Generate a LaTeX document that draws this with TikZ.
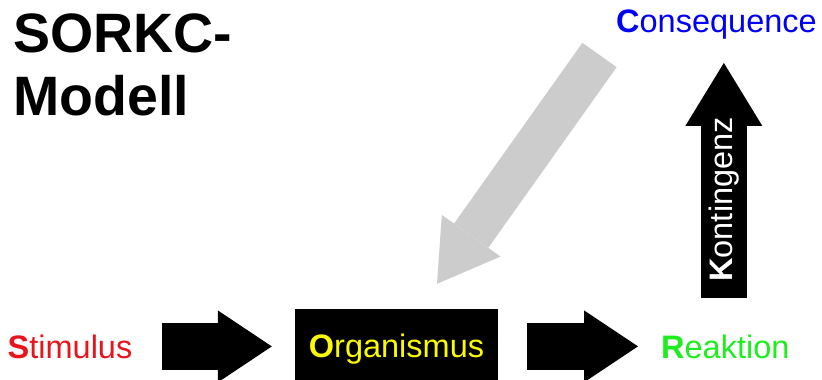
\documentclass[tikz,border=0pt]{standalone}
\usepackage{fontspec}
\setmainfont{Liberation Sans}
\usetikzlibrary{arrows.meta}

\definecolor{sred}{RGB}{232,20,28}
\definecolor{oyellow}{RGB}{250,250,0}
\definecolor{rgreen}{RGB}{30,238,30}
\definecolor{cblue}{RGB}{0,0,245}
\definecolor{fbgray}{RGB}{204,204,204}

\tikzstyle{lbl}=[anchor=base west,inner sep=0pt]
\tikzstyle{bigarrow}=[line width=47pt,-{Triangle[length=54pt,width=72pt,line width=0pt]}]

\begin{document}
\begin{tikzpicture}[x=1pt,y=-1pt,font=\fontsize{32.5}{39}\selectfont]
\useasboundingbox (0,0) rectangle (822,380);
\node[anchor=north west,inner sep=0pt,align=left,font=\fontsize{55.5}{63}\selectfont\bfseries] (title) at (13,13.5) {SORKC-\\Modell};
\node[lbl,text=sred] (stim) at (7.5,358) {\textbf{S}timulus};
\node[inner sep=0pt,fill=black,text=oyellow,minimum width=203pt,minimum height=72pt,text height=26pt,text depth=0pt] (org) at (396.5,344.5) {\textbf{O}rganismus};
\node[lbl,text=rgreen] (reak) at (661,358) {\textbf{R}eaktion};
\node[lbl,text=cblue] (cons) at (616,32) {\textbf{C}onsequence};
\coordinate (fb) at (599.5,55);

\draw[bigarrow] ([xshift=29pt] stim.east) -- ([xshift=-23pt] org.west |- stim.east);
\draw[bigarrow] ([xshift=29pt] org.east |- stim.east) -- ([xshift=-23pt] reak.west);
\draw[line width=46pt,-{Triangle[length=63pt,width=77pt,line width=0pt]}] ([xshift=-1.5pt,yshift=36pt] reak.north) -- ([xshift=-1.5pt,yshift=-24pt] reak.north |- cons.south) node[pos=0.42,rotate=90,text=white] (kont) {\textbf{K}ontingenz};
\draw[line width=42pt,fbgray,-{Triangle[length=59pt,width=72pt,line width=0pt]}] (fb) -- ([xshift=40.5pt,yshift=24.5pt] org.north);
\end{tikzpicture}
\end{document}
